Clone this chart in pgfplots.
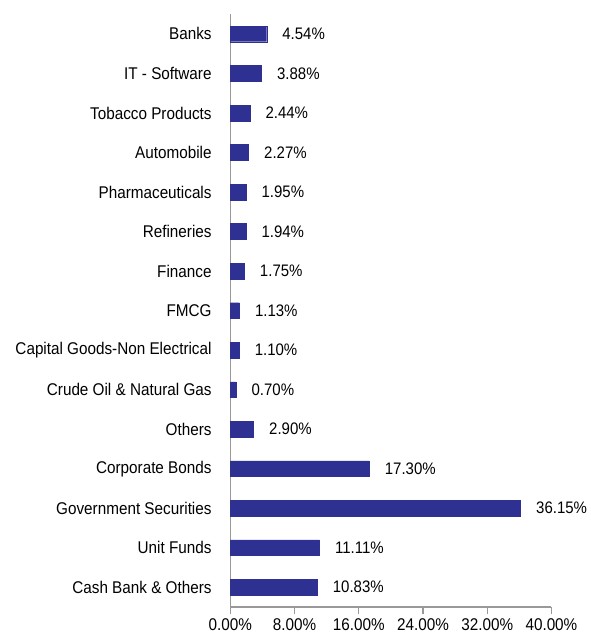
\documentclass[border=0pt]{standalone}
\usepackage{pgfplots}
\pgfplotsset{compat=1.18}
\usepackage{fontspec}
\setmainfont{Liberation Sans}[FakeStretch=0.9]
\definecolor{barblue}{HTML}{2E3192}
\definecolor{axgray}{HTML}{999999}
\begin{document}
\begin{tikzpicture}
\begin{axis}[
    xbar,
    scale only axis,
    width=318pt, height=587pt,
    xmin=0, xmax=40,
    ymin=-0.5, ymax=14.5,
    bar width=15.5pt,
    axis x line*=bottom,
    axis y line*=left,
    axis line style={draw=axgray, line width=1.4pt},
    xtick={0,8,16,24,32,40},
    tick style={axgray, line width=1.2pt},
    major tick length=7pt,
    tick align=outside,
    ytick=data,
    ytick style={draw=none},
    yticklabels={Cash Bank \& Others,Unit Funds,Government Securities,Corporate Bonds,Others,Crude Oil \& Natural Gas,Capital Goods-Non Electrical,FMCG,Finance,Refineries,Pharmaceuticals,Automobile,Tobacco Products,IT - Software,Banks},
    /pgf/number format/assume math mode=true,
    xticklabel={\pgfmathprintnumber[fixed,fixed zerofill,precision=2]{\tick}\%},
    tick label style={font=\fontsize{16.8}{19}\selectfont, text=black},
    yticklabel style={xshift=-8pt},
    xticklabel style={yshift=-1pt},
    nodes near coords={\pgfmathprintnumber[fixed,fixed zerofill,precision=2]{\pgfplotspointmeta}\%},
    nodes near coords style={font=\fontsize{16.5}{19}\selectfont, anchor=west, xshift=12pt, text=black},
    clip=false,
]
\addplot[fill=barblue, draw=barblue] coordinates {
    (10.83,0) (11.11,1) (36.15,2) (17.30,3) (2.90,4) (0.70,5) (1.10,6) (1.13,7)
    (1.75,8) (1.94,9) (1.95,10) (2.27,11) (2.44,12) (3.88,13) (4.54,14)
};
% white margin at the top and on the left, as in the reference
\path (rel axis cs:0,1) ++(-228pt,14pt) coordinate (margin);
\end{axis}
\end{tikzpicture}
\end{document}
